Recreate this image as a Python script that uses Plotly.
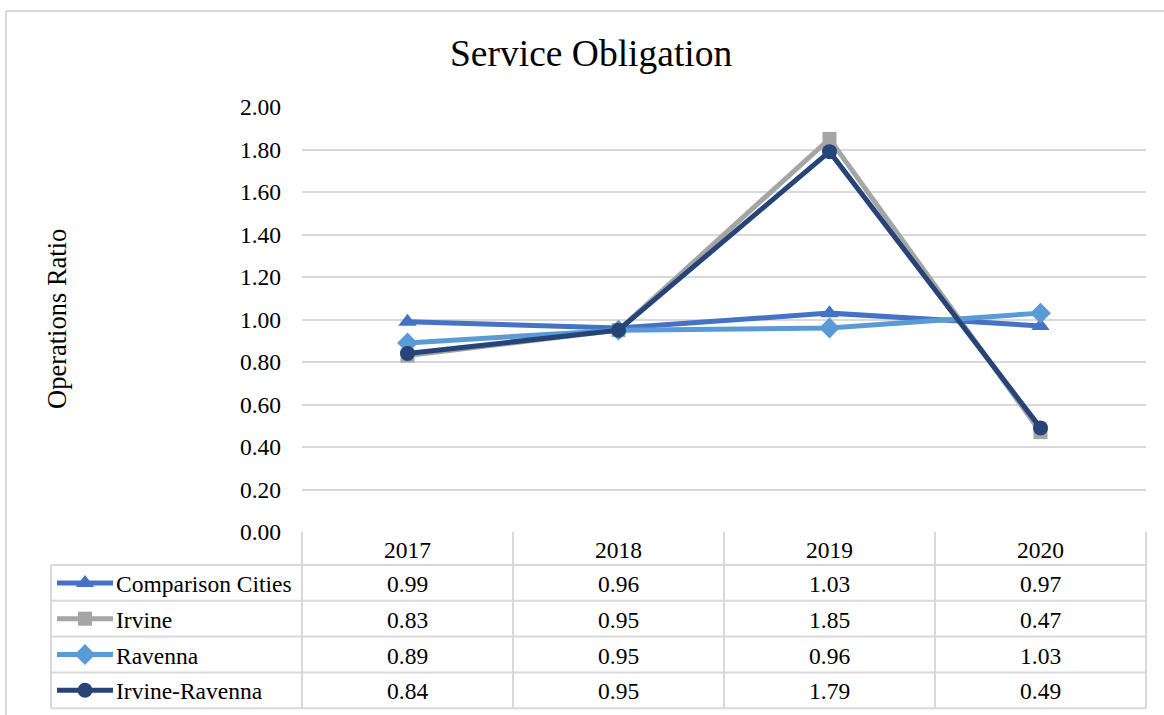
import plotly.graph_objects as go

W, H = 1164, 715

years = ["2017", "2018", "2019", "2020"]
series_names = ["Comparison Cities", "Irvine", "Ravenna", "Irvine-Ravenna"]
comparison_cities = [0.99, 0.96, 1.03, 0.97]
irvine = [0.83, 0.95, 1.85, 0.47]
ravenna = [0.89, 0.95, 0.96, 1.03]
irvine_ravenna = [0.84, 0.95, 1.79, 0.49]
y_ticks = [0.0, 0.2, 0.4, 0.6, 0.8, 1.0, 1.2, 1.4, 1.6, 1.8, 2.0]

series_values = [comparison_cities, irvine, ravenna, irvine_ravenna]
colors = ["#4472C4", "#A5A5A5", "#5B9BD5", "#264478"]
symbols = ["triangle-up", "square", "diamond", "circle"]
msizes = [16, 14, 16, 15]

FONT = "Liberation Serif"
GRID = "#D9D9D9"
FS = 23.5
LW = 5

# layout in pixels
plot_left, plot_right = 302, 1146
plot_top, plot_bottom = 107, 532
table_left = 51
header_bottom = 565
row_h = 35.8

def px(x):
    return x / W

def py(y):
    return 1 - y / H

fig = go.Figure()

order = [1, 0, 2, 3]
for i in order:
    fig.add_trace(go.Scatter(
        x=[0, 1, 2, 3], y=series_values[i], mode="lines+markers",
        name=series_names[i],
        line=dict(color=colors[i], width=LW),
        marker=dict(symbol=symbols[i], size=msizes[i], color=colors[i]),
        xaxis="x", yaxis="y", showlegend=False, hoverinfo="skip"))

for i in range(4):
    yc = header_bottom + row_h * (i + 0.5)
    fig.add_trace(go.Scatter(
        x=[57, 85, 113], y=[yc, yc, yc], mode="lines",
        line=dict(color=colors[i], width=LW),
        xaxis="x2", yaxis="y2", showlegend=False, hoverinfo="skip"))
    fig.add_trace(go.Scatter(
        x=[85], y=[yc], mode="markers",
        marker=dict(symbol=symbols[i], size=msizes[i], color=colors[i]),
        xaxis="x2", yaxis="y2", showlegend=False, hoverinfo="skip"))

shapes = []
annotations = []

shapes.append(dict(type="line", xref="paper", yref="paper",
                   x0=px(6), x1=px(6), y0=0, y1=py(11),
                   line=dict(color=GRID, width=2)))
shapes.append(dict(type="line", xref="paper", yref="paper",
                   x0=px(6), x1=1, y0=py(11), y1=py(11),
                   line=dict(color=GRID, width=2)))

table_bottom = header_bottom + 4 * row_h
ncat = len(years)
cat_w = (plot_right - plot_left) / ncat
for k in range(ncat + 1):
    xv = plot_left + k * cat_w
    shapes.append(dict(type="line", xref="paper", yref="paper",
                       x0=px(xv), x1=px(xv), y0=py(plot_bottom), y1=py(table_bottom),
                       line=dict(color=GRID, width=2)))
shapes.append(dict(type="line", xref="paper", yref="paper",
                   x0=px(table_left), x1=px(table_left), y0=py(header_bottom), y1=py(table_bottom),
                   line=dict(color=GRID, width=2)))
for r in range(5):
    yv = header_bottom + r * row_h
    shapes.append(dict(type="line", xref="paper", yref="paper",
                       x0=px(table_left), x1=px(plot_right), y0=py(yv), y1=py(yv),
                       line=dict(color=GRID, width=2)))

for k, yr in enumerate(years):
    annotations.append(dict(x=px(plot_left + (k + 0.5) * cat_w), y=py((plot_bottom + header_bottom) / 2 + 1),
                            xref="paper", yref="paper", text=yr, showarrow=False,
                            font=dict(family=FONT, size=FS, color="#000000"),
                            xanchor="center", yanchor="middle"))
for i in range(4):
    yc = header_bottom + row_h * (i + 0.5) + 1
    annotations.append(dict(x=px(114), y=py(yc), xref="paper", yref="paper",
                            text=series_names[i], showarrow=False,
                            font=dict(family=FONT, size=FS, color="#000000"),
                            xanchor="left", yanchor="middle"))
    for k in range(ncat):
        annotations.append(dict(x=px(plot_left + (k + 0.5) * cat_w), y=py(yc),
                                xref="paper", yref="paper",
                                text=f"{series_values[i][k]:.2f}", showarrow=False,
                                font=dict(family=FONT, size=FS, color="#000000"),
                                xanchor="center", yanchor="middle"))

annotations.append(dict(x=px(57), y=py(319), xref="paper", yref="paper",
                        text="Operations Ratio", showarrow=False, textangle=-90,
                        font=dict(family=FONT, size=26.5, color="#000000"),
                        xanchor="center", yanchor="middle"))
annotations.append(dict(x=px(591), y=py(54), xref="paper", yref="paper",
                        text="Service Obligation", showarrow=False,
                        font=dict(family=FONT, size=37.5, color="#000000"),
                        xanchor="center", yanchor="middle"))

fig.update_layout(
    template="none",
    width=W, height=H, autosize=False,
    margin=dict(l=0, r=0, t=0, b=0, pad=0, autoexpand=False),
    paper_bgcolor="white", plot_bgcolor="rgba(0,0,0,0)",
    showlegend=False,
    xaxis=dict(domain=[px(plot_left), px(plot_right)], range=[-0.5, 3.5],
               showgrid=False, zeroline=False, showticklabels=False, showline=False,
               ticks="", automargin=False, fixedrange=True),
    yaxis=dict(domain=[py(plot_bottom), py(plot_top)], range=[0, 2],
               tickvals=y_ticks, ticktext=[f"{v:.2f}" for v in y_ticks],
               showgrid=True, gridcolor=GRID, gridwidth=2, zeroline=False,
               showline=False, ticks="", ticklabelstandoff=20, automargin=False,
               tickfont=dict(family=FONT, size=FS, color="#000000"), fixedrange=True),
    xaxis2=dict(domain=[0, 1], range=[0, W], visible=False, automargin=False, fixedrange=True),
    yaxis2=dict(domain=[0, 1], range=[H, 0], visible=False, automargin=False, fixedrange=True),
    shapes=shapes,
    annotations=annotations,
)

fig.write_html("out.html")
